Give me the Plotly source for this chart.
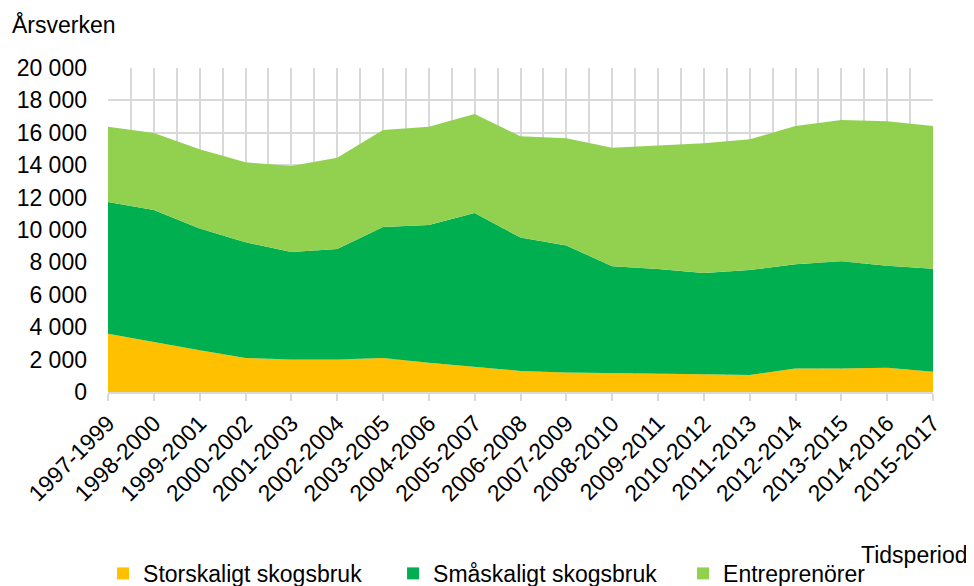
import plotly.graph_objects as go

periods = ["1997-1999", "1998-2000", "1999-2001", "2000-2002", "2001-2003", "2002-2004",
           "2003-2005", "2004-2006", "2005-2007", "2006-2008", "2007-2009", "2008-2010",
           "2009-2011", "2010-2012", "2011-2013", "2012-2014", "2013-2015", "2014-2016",
           "2015-2017"]
storskaligt = [3600, 3080, 2570, 2100, 2000, 2000, 2100, 1800, 1550, 1300, 1200, 1150,
               1100, 1090, 1050, 1450, 1450, 1500, 1250]
smaskaligt = [8130, 8150, 7530, 7140, 6640, 6830, 8090, 8510, 9500, 8230, 7850, 6610,
              6490, 6260, 6480, 6430, 6620, 6300, 6360]
entreprenorer = [4650, 4760, 4880, 4940, 5310, 5630, 5980, 6070, 6110, 6250, 6610, 7320,
                 7630, 8000, 8070, 8540, 8720, 8910, 8810]
y_ticks = list(range(0, 20001, 2000))

x = list(range(len(periods)))
FONT = "Liberation Sans, Arial, sans-serif"
FS = 23

series = [("Storskaligt skogsbruk", storskaligt, "#FFC000"),
          ("Småskaligt skogsbruk", smaskaligt, "#00B050"),
          ("Entreprenörer", entreprenorer, "#92D050")]

fig = go.Figure()
for name, vals, col in series:
    fig.add_trace(go.Scatter(x=x, y=vals, name=name, mode="lines", stackgroup="one",
                             line=dict(width=0, color=col), fillcolor=col,
                             showlegend=False, legendgroup=name))
# legend entries drawn as small squares
for name, vals, col in series:
    fig.add_trace(go.Scatter(x=[None], y=[None], name=name, mode="markers",
                             marker=dict(symbol="square", size=12, color=col),
                             showlegend=True, legendgroup=name))

# page body has an 8px default margin, so the figure is 8px smaller than the window
fig.update_layout(
    width=966, height=578,
    margin=dict(l=100, r=41, t=60, b=194, autoexpand=False),
    paper_bgcolor="white", plot_bgcolor="white",
    font=dict(family=FONT, size=FS, color="#000000"),
    separators=", ",
    showlegend=True,
    legend=dict(orientation="h", x=-0.006, xanchor="left", y=-0.56, yanchor="middle",
                font=dict(size=FS), traceorder="normal",
                entrywidth=245, entrywidthmode="pixels",
                bgcolor="rgba(0,0,0,0)"),
    xaxis=dict(range=[0, len(periods) - 1], tickmode="array", tickvals=x, ticktext=periods,
               tickangle=-45, showgrid=True, gridcolor="#d9d9d9", gridwidth=1.5,
               minor=dict(dtick=0.5, tick0=0, showgrid=True, gridcolor="#d9d9d9", gridwidth=1.5),
               ticks="outside", ticklen=7, tickcolor="#d9d9d9", tickwidth=1.5,
               showline=True, linecolor="#d9d9d9", linewidth=1.5, automargin=False,
               tickfont=dict(size=FS), zeroline=False),
    yaxis=dict(range=[0, 20000], tickmode="array", tickvals=y_ticks, tickformat=",d",
               showgrid=True, gridcolor="#d9d9d9", gridwidth=1.5, zeroline=False,
               ticks="", ticklabelstandoff=20, tickfont=dict(size=FS), showline=False,
               automargin=False),
    annotations=[
        dict(text="Årsverken", xref="paper", yref="paper", x=-0.119, y=1.133,
             xanchor="left", yanchor="middle", showarrow=False, font=dict(size=FS)),
        dict(text="Tidsperiod", xref="paper", yref="paper", x=1.0448, y=-0.503,
             xanchor="right", yanchor="middle", showarrow=False, font=dict(size=FS)),
    ],
)

fig.write_html("out.html")
